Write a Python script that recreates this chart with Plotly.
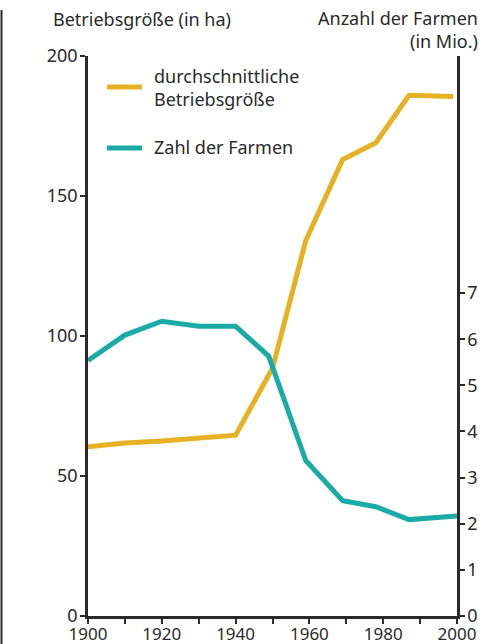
import plotly.graph_objects as go

years = [1900, 1910, 1920, 1930, 1940, 1950, 1959, 1969, 1978, 1987, 1999]
groesse = [60.4, 61.8, 62.5, 63.6, 64.6, 88.5, 134, 163, 169, 186, 185.5]
farm_years = [1900, 1910, 1920, 1930, 1940, 1949, 1959, 1969, 1978, 1987, 2000]
farmen = [5.54, 6.09, 6.39, 6.28, 6.28, 5.63, 3.37, 2.50, 2.37, 2.09, 2.17]

x_ticks = list(range(1900, 2001, 10))
x_labels = [str(y) if y % 20 == 0 else "" for y in x_ticks]
left_ticks = [0, 50, 100, 150, 200]
right_ticks = [0, 1, 2, 3, 4, 5, 6, 7]

YELLOW = "#E6B122"
TEAL = "#1AABA6"
INK = "#2a2a2a"
FONT = "Noto Sans"
FS = 18

L, R, T, B = 88, 26, 56, 28
PW, PH = 483 - L - R, 644 - T - B


def px(x):
    return (x - L) / PW


def py(y):
    return (644 - B - y) / PH


fig = go.Figure()
fig.add_trace(go.Scatter(x=years, y=groesse, mode="lines",
                         line=dict(color=YELLOW, width=5),
                         name="durchschnittliche Betriebsgröße", yaxis="y"))
fig.add_trace(go.Scatter(x=farm_years, y=farmen, mode="lines",
                         line=dict(color=TEAL, width=5),
                         name="Zahl der Farmen", yaxis="y2"))

axis_common = dict(showgrid=False, zeroline=False, showline=True, linecolor=INK,
                   linewidth=2.5, ticks="outside", ticklen=5, tickwidth=1.5,
                   tickcolor=INK, automargin=False)

ann = []


def text(t, x, y, anchor="left"):
    ann.append(dict(text=t, xref="paper", yref="paper", x=px(x), y=py(y),
                    xanchor=anchor, yanchor="middle", showarrow=False, align=anchor,
                    font=dict(family=FONT, size=FS, color=INK)))


text("Betriebsgröße (in ha)", 51, 19)
text("Anzahl der Farmen<br>(in Mio.)", 480, 30, "right")
text("durchschnittliche<br>Betriebsgröße", 152, 87)
text("Zahl der Farmen", 152, 147)

fig.update_layout(
    width=483, height=644,
    margin=dict(l=L, r=R, t=T, b=B),
    paper_bgcolor="white", plot_bgcolor="white",
    font=dict(family=FONT, size=FS, color=INK),
    xaxis=dict(range=[1900, 2000], tickvals=x_ticks, ticktext=x_labels,
               ticklabelstandoff=-4, tickfont=dict(family=FONT, size=17, color=INK),
               **axis_common),
    yaxis=dict(range=[0, 200], tickvals=left_ticks, ticklabelstandoff=-1,
               tickfont=dict(family=FONT, size=FS, color=INK), **axis_common),
    yaxis2=dict(range=[0, 12.14], tickvals=right_ticks, overlaying="y", side="right",
                ticklabelstandoff=-1, tickfont=dict(family=FONT, size=FS, color=INK),
                **axis_common),
    showlegend=False,
    annotations=ann,
    shapes=[
        dict(type="line", xref="paper", yref="paper",
             x0=px(1.5), x1=px(1.5), y0=py(10), y1=py(650),
             line=dict(color=INK, width=2)),
        dict(type="line", xref="paper", yref="paper",
             x0=px(107), x1=px(142), y0=py(87), y1=py(87),
             line=dict(color=YELLOW, width=5)),
        dict(type="line", xref="paper", yref="paper",
             x0=px(107), x1=px(142), y0=py(148), y1=py(148),
             line=dict(color=TEAL, width=5)),
    ],
)

fig.write_html("out.html", config={"displayModeBar": False},
               post_script="document.body.style.margin='0';document.body.style.overflow='hidden';")
